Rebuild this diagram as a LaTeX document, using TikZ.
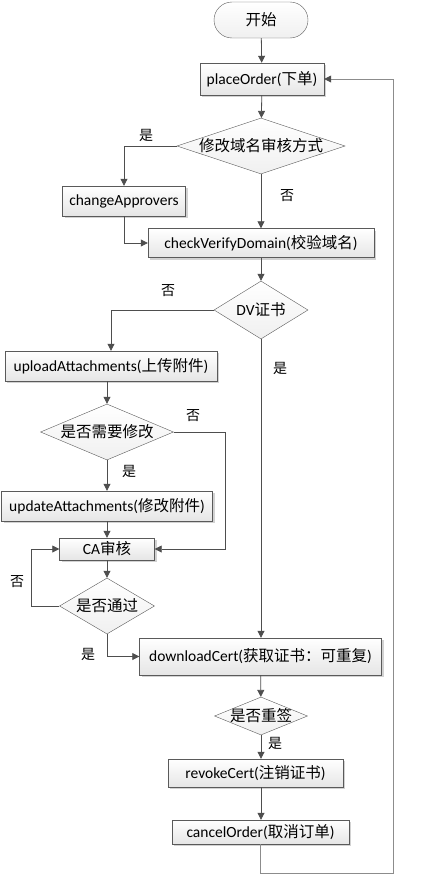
\documentclass[tikz,border=0pt]{standalone}
\usepackage{fontspec}
\setmainfont{Carlito}
\newfontfamily\cjk{Noto Sans CJK SC}
\usepackage{tikz}
\usetikzlibrary{positioning,shapes.geometric,arrows.meta,shadows}
\definecolor{lineg}{HTML}{4E4E4E}
\definecolor{edgeg}{HTML}{5A5A5A}
\definecolor{backg}{HTML}{8C8C8C}
\newcommand{\zh}[1]{{\cjk #1}}
\newcommand{\dtxt}[1]{\makebox[0pt]{\cjk #1}}

\begin{document}
\begin{tikzpicture}[x=1pt, y=-1pt,
    every node/.style={font=\fontsize{15.5}{18}\selectfont},
    box/.style={rectangle, draw=edgeg, top color=white, bottom color=black!10,
                inner sep=0pt,
                drop shadow={shadow xshift=2pt, shadow yshift=-2pt, fill=black!35, opacity=0.5}},
    term/.style={rectangle, rounded corners=18pt, draw=edgeg, top color=white,
                 bottom color=black!6, minimum width=94pt, minimum height=36pt},
    dia/.style={diamond, aspect=1, draw=edgeg, top color=white, bottom color=black!6,
                inner sep=0pt},
    lbl/.style={font=\cjk\fontsize{14}{16}\selectfont},
    arr/.style={-{Triangle[length=7pt, width=7pt]}, lineg, line width=0.8pt},
    back/.style={-{Triangle[length=7pt, width=7pt, color=lineg]}, backg, line width=0.8pt}
  ]
  \useasboundingbox (0,0) rectangle (422,886);

  % main column
  \node[term] (start) at (261,20) {\zh{开始}};
  \node[box, minimum width=124pt, minimum height=32pt] (place) at (262,79)
        {placeOrder(\zh{下单})};
  \node[dia, minimum width=168pt, minimum height=56pt] (d1) at (261,146)
        {\dtxt{修改域名审核方式}};
  \node[box, minimum width=123pt, minimum height=30pt] (change) at (124,201)
        {changeApprovers};
  \node[box, minimum width=226pt, minimum height=29pt] (check) at (261,243)
        {checkVerifyDomain(\zh{校验域名})};
  \node[dia, minimum width=94pt, minimum height=58pt] (dv) at (261,310)
        {\dtxt{\rmfamily DV\cjk 证书}};

  % left branch
  \node[box, minimum width=212pt, minimum height=30pt] (upload) at (111,366)
        {uploadAttachments(\zh{上传附件})};
  \node[dia, minimum width=133pt, minimum height=56pt] (d2) at (107,432)
        {\dtxt{是否需要修改}};
  \node[box, minimum width=211pt, minimum height=30pt] (update) at (107,506)
        {updateAttachments(\zh{修改附件})};
  \node[box, minimum width=95pt, minimum height=22pt] (ca) at (107,549)
        {CA\zh{审核}};
  \node[dia, minimum width=95pt, minimum height=56pt] (d3) at (107,606)
        {\dtxt{是否通过}};

  % lower column
  \node[box, minimum width=242pt, minimum height=37pt] (download) at (260.5,656.5)
        {downloadCert(\zh{获取证书：可重复})};
  \node[dia, minimum width=93pt, minimum height=38pt] (d4) at (261,716)
        {\dtxt{是否重签}};
  \node[box, minimum width=175pt, minimum height=28pt] (revoke) at (255.5,773)
        {revokeCert(\zh{注销证书})};
  \node[box, minimum width=177pt, minimum height=24pt] (cancel) at (260.5,832)
        {cancelOrder(\zh{取消订单})};
  \coordinate (turn) at (393,873);

  % yes / no labels
  \node[lbl] (y1) at (146,135) {是};
  \node[lbl] (n1) at (287,196) {否};
  \node[lbl] (n2) at (168,291) {否};
  \node[lbl] (y2) at (280,368) {是};
  \node[lbl] (n3) at (193,416) {否};
  \node[lbl] (y3) at (129,471) {是};
  \node[lbl] (n4) at (17,582) {否};
  \node[lbl] (y4) at (88,654) {是};
  \node[lbl] (y5) at (275,743) {是};

  % connectors
  \draw[arr] (start) -- (place);
  \draw[arr] (place) -- (d1);
  \draw[arr] (d1.west) -| (change.north);
  \draw[arr] (d1) -- (check);
  \draw[arr] (change.south) |- (check.west);
  \draw[arr] (check) -- (dv);
  \draw[arr] (dv.west) -| (upload.north);
  \draw[arr] (dv.south) -- (dv.south |- download.north);
  \draw[arr] (upload.south -| d2.north) -- (d2.north);
  \draw[arr] (d2.east) -- ++(52,0) |- (ca.east);
  \draw[arr] (d2) -- (update);
  \draw[arr] (update) -- (ca);
  \draw[arr] (ca) -- (d3);
  \draw[arr] (d3.west) -- ++(-28,0) |- (ca.west);
  \draw[arr] (d3.south) |- (download.west);
  \draw[arr] (download) -- (d4);
  \draw[arr] (d4.south) -- (d4.south |- revoke.north);
  \draw[arr] (d4.south |- revoke.south) -- (d4.south |- cancel.north);
  \draw[back] (cancel.south) |- (turn) |- (place.east);
\end{tikzpicture}
\end{document}
